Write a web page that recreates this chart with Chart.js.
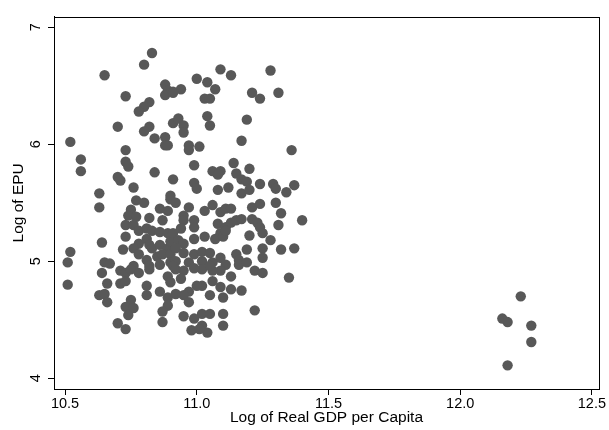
<!DOCTYPE html>
<html>
<head>
<meta charset="utf-8">
<script src="https://cdn.jsdelivr.net/npm/chart.js@4.4.0/dist/chart.umd.min.js"></script>
<style>
  html, body { margin: 0; padding: 0; background: #fff; }
  #wrap { width: 609px; height: 430px; }
</style>
</head>
<body>
<div id="wrap"><canvas id="epuChart"></canvas></div>
<script>
// log real GDP per capita (x) and log EPU (y)
const gdpLog = [
  10.83, 10.80, 10.65, 10.73, 10.88, 10.89, 10.88, 10.91, 10.82, 10.80, 10.78, 10.70, 10.82, 10.80, 10.84, 10.88, 10.88, 10.89, 10.52, 10.73, 10.91,
  11.09, 11.13, 11.28, 11.00, 11.04, 11.07, 10.94, 10.91, 11.21, 11.24, 11.31, 11.03, 11.05, 11.04, 11.05, 11.19, 10.93, 10.95, 10.95, 11.17, 10.97, 11.01, 10.97, 11.36,
  10.56, 10.56, 10.73, 10.74, 10.84, 10.70, 10.71, 10.91, 10.63, 10.63, 10.76, 10.77, 10.80, 10.90, 10.75, 10.86, 10.89, 10.74, 10.77, 10.82, 10.87, 10.73, 10.76,
  10.64, 10.73, 10.72, 10.52, 10.51, 10.65, 10.67,
  10.78, 10.81, 10.83, 10.86, 10.89, 10.81, 10.78, 10.82, 10.83, 10.86, 10.89, 10.90, 10.76, 10.78, 10.81, 10.85, 10.87, 10.90, 10.76, 10.82, 10.86, 10.90,
  10.99, 11.06, 11.09, 11.08, 11.14, 11.20, 11.15, 11.17, 11.19, 10.99, 11.00, 11.08, 11.12, 11.17, 11.20, 11.24, 11.29, 11.30, 11.34,
  10.90, 10.92, 10.97, 11.03, 11.06, 11.09, 11.11, 11.13, 11.21, 11.24, 11.30, 11.32, 11.31, 10.95, 10.95, 10.99, 10.99, 10.94,
  11.08, 11.11, 11.13, 11.15, 11.17, 11.21, 11.23, 11.24, 11.25, 11.20, 11.28, 11.32, 11.37, 11.25, 11.25, 11.19, 11.15, 11.16,
  11.09, 11.07, 11.10, 11.11, 11.03, 10.99, 10.91, 10.93, 10.95, 10.92, 10.95, 10.99, 11.02, 11.05, 11.09, 11.11, 11.06, 10.97, 10.92, 11.02,
  11.37, 11.40,
  10.51, 10.64, 10.71, 10.73, 10.75, 10.78, 10.82, 10.89, 10.91, 10.66, 10.71, 10.73, 10.81, 10.81, 10.86, 10.89, 10.63, 10.65, 10.66, 10.75, 10.73, 10.76,
  10.74, 10.89, 10.87, 10.70, 10.73, 10.87,
  11.35, 11.22, 11.13, 11.17, 11.13, 11.10, 11.06, 11.09, 11.05, 11.02, 11.00, 10.97, 10.95, 10.97, 10.92, 10.95, 10.99, 11.02, 11.05, 11.10, 11.10, 11.02,
  10.98, 11.04, 11.01, 11.16, 11.19, 11.22, 11.25, 11.09, 11.06, 11.02, 10.99, 10.95, 10.92, 10.94, 10.90, 11.05,
  12.23, 12.16, 12.18, 12.27, 12.27, 12.18
];
const epuLog = [
  6.78, 6.68, 6.59, 6.41, 6.51, 6.46, 6.42, 6.45, 6.36, 6.32, 6.28, 6.15, 6.15, 6.11, 6.05, 6.06, 5.99, 5.99, 6.02, 5.95, 6.18,
  6.64, 6.59, 6.63, 6.56, 6.53, 6.47, 6.47, 6.44, 6.44, 6.39, 6.44, 6.39, 6.39, 6.24, 6.16, 6.21, 6.22, 6.16, 6.10, 6.03, 5.99, 5.98, 5.95, 5.95,
  5.87, 5.77, 5.85, 5.81, 5.76, 5.72, 5.69, 5.70, 5.58, 5.46, 5.63, 5.52, 5.50, 5.53, 5.44, 5.45, 5.43, 5.39, 5.38, 5.37, 5.35, 5.31, 5.31,
  5.16, 5.21, 5.10, 5.08, 4.99, 4.99, 4.98,
  5.26, 5.28, 5.26, 5.25, 5.24, 5.19, 5.15, 5.14, 5.11, 5.14, 5.11, 5.17, 5.11, 5.06, 5.01, 5.04, 5.06, 5.06, 4.96, 4.96, 4.97, 4.99,
  5.82, 5.77, 5.77, 5.74, 5.84, 5.79, 5.75, 5.70, 5.68, 5.67, 5.62, 5.61, 5.63, 5.58, 5.61, 5.66, 5.66, 5.62, 5.59,
  5.56, 5.50, 5.46, 5.43, 5.48, 5.42, 5.45, 5.45, 5.46, 5.49, 5.50, 5.41, 5.31, 5.39, 5.35, 5.35, 5.29, 5.28,
  5.32, 5.29, 5.33, 5.35, 5.36, 5.36, 5.33, 5.29, 5.24, 5.22, 5.18, 5.10, 5.11, 5.11, 5.03, 5.10, 5.06, 5.01,
  5.24, 5.19, 5.21, 5.26, 5.21, 5.19, 5.24, 5.18, 5.15, 5.11, 5.07, 5.06, 5.08, 5.07, 5.03, 4.97, 4.99, 4.99, 5.00, 5.00,
  5.65, 5.35,
  4.80, 4.90, 4.92, 4.90, 4.93, 4.90, 4.93, 4.87, 4.96, 4.81, 4.81, 4.83, 4.79, 4.71, 4.74, 4.69, 4.71, 4.72, 4.65, 4.67, 4.61, 4.60,
  4.54, 4.62, 4.57, 4.47, 4.42, 4.48,
  4.86, 4.58, 4.87, 4.75, 4.76, 4.69, 4.83, 4.78, 4.71, 4.79, 4.79, 4.74, 4.71, 4.65, 4.72, 4.53, 4.51, 4.55, 4.55, 4.55, 4.45, 4.45,
  4.41, 4.39, 4.42, 4.97, 4.99, 4.92, 4.90, 4.92, 4.92, 4.93, 4.94, 4.92, 4.93, 4.85, 4.82, 4.96,
  4.70, 4.51, 4.48, 4.45, 4.31, 4.11
];
const xTicks = [10.5, 11, 11.5, 12, 12.5];
const yTicks = [4, 5, 6, 7];

const points = gdpLog.map((x, i) => ({ x: x, y: epuLog[i] }));

// plot region box (Stata-style frame)
const frame = {
  id: 'frame',
  afterDraw(chart) {
    const a = chart.chartArea, c = chart.ctx;
    c.save();
    c.strokeStyle = '#000';
    c.lineWidth = 1;
    c.strokeRect(Math.round(a.left) + 0.5, Math.round(a.top) + 0.5, Math.round(a.right - a.left), Math.round(a.bottom - a.top));
    c.restore();
  }
};

const ctx = document.getElementById('epuChart').getContext('2d');
const epuChart = new Chart(ctx, {
  type: 'scatter',
  data: {
    datasets: [{
      data: points,
      backgroundColor: '#585858',
      borderColor: '#585858',
      borderWidth: 0,
      pointRadius: 5.2,
      pointHoverRadius: 5.2
    }]
  },
  options: {
    responsive: true,
    maintainAspectRatio: false,
    animation: false,
    layout: { padding: { top: 8, right: 10, left: 0, bottom: 0 } },
    plugins: { legend: { display: false }, tooltip: { enabled: false } },
    scales: {
      x: {
        type: 'linear',
        min: 10.458,
        max: 12.527,
        afterBuildTicks: s => { s.ticks = xTicks.map(v => ({ value: v })); },
        afterFit: s => { s.height = 41; },
        grid: { drawOnChartArea: false, drawTicks: true, tickLength: 6, color: '#000' },
        border: { display: true, color: '#000' },
        ticks: { color: '#000', padding: 0, font: { family: 'Liberation Sans', size: 14.5 }, maxRotation: 0 },
        title: { display: true, text: 'Log of Real GDP per Capita', color: '#000', padding: { top: 0, bottom: 2.7 }, font: { family: 'Liberation Sans', size: 15.5 } }
      },
      y: {
        type: 'linear',
        min: 3.908,
        max: 7.09,
        afterBuildTicks: s => { s.ticks = yTicks.map(v => ({ value: v })); },
        afterFit: s => { s.width = 54; },
        grid: { drawOnChartArea: false, drawTicks: true, tickLength: 6, color: '#000' },
        border: { display: true, color: '#000' },
        ticks: { color: '#000', padding: 8, crossAlign: 'center', minRotation: 90, maxRotation: 90, font: { family: 'Liberation Sans', size: 14.5 } },
        title: { display: true, text: 'Log of EPU', color: '#000', padding: { top: 9.7, bottom: 0 }, font: { family: 'Liberation Sans', size: 15.5 } }
      }
    }
  },
  plugins: [frame]
});
</script>
</body>
</html>
